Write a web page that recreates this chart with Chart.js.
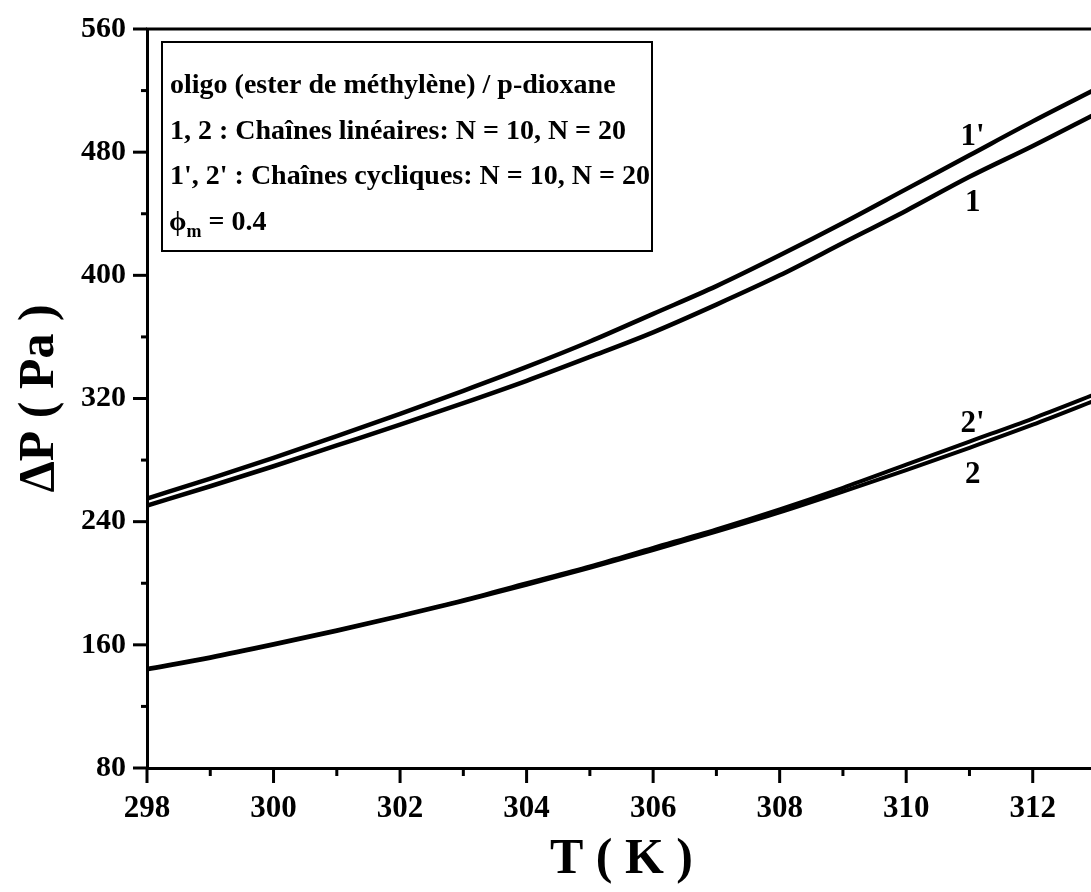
<!DOCTYPE html>
<html>
<head>
<meta charset="utf-8">
<script src="https://cdn.jsdelivr.net/npm/chart.js@4.4.1/dist/chart.umd.min.js"></script>
<style>
  html, body { margin: 0; padding: 0; background: #fff; overflow: hidden; }
  #wrap { width: 1091px; height: 892px; overflow: hidden; }
</style>
</head>
<body>
<div id="wrap"><canvas id="dpChart" width="1096" height="892"></canvas></div>
<script>
// Température (K)
const temperatures = [298, 299, 300, 301, 302, 303, 304, 305, 306, 307, 308, 309, 310, 311, 312, 313];

// ΔP (Pa) pour chaque courbe
const cycN10 = [255, 268, 281.5, 295.5, 310, 325, 340.5, 357, 375, 393, 413, 434, 456, 478, 500, 521];   // 1'
const linN10 = [250.5, 263, 276, 289.5, 303, 317, 331.5, 347, 363, 381, 400, 421, 442, 464, 484, 505]; // 1
const cycN20 = [144.5, 152, 160.5, 169.5, 179, 189, 200, 211, 223, 235, 248, 262, 277, 292, 307, 323]; // 2'
const linN20 = [144, 151.5, 160, 169, 178.5, 188.5, 199, 210, 221.5, 233.5, 246, 259.5, 273.5, 288, 303, 319]; // 2

const xMajorTicks = [298, 300, 302, 304, 306, 308, 310, 312];
const xMinorTicks = [299, 301, 303, 305, 307, 309, 311];
const yMajorTicks = [80, 160, 240, 320, 400, 480, 560];
const yMinorTicks = [120, 200, 280, 360, 440, 520];

const curveNames = ["1'", "1", "2'", "2"];
const legendLines = [
  'oligo (ester de méthylène) / p-dioxane',
  '1, 2 : Chaînes linéaires: N = 10, N = 20',
  "1', 2' : Chaînes cycliques: N = 10, N = 20"
];
const phiLabel = ['ϕ', 'm', ' = 0.4'];

const FONT = '"Liberation Serif", "Times New Roman", serif';

function toPoints(values) {
  return temperatures.map((t, i) => ({ x: t, y: values[i] }));
}

// ticks majeurs / mineurs, bord du haut, cadre de légende, noms des courbes
const decorations = {
  id: 'decorations',
  afterDraw(chart) {
    const ctx = chart.ctx;
    const area = chart.chartArea;
    const xs = chart.scales.x;
    const ys = chart.scales.y;
    ctx.save();
    ctx.strokeStyle = '#000';
    ctx.fillStyle = '#000';
    ctx.lineCap = 'butt';

    // bord du haut
    ctx.lineWidth = 3;
    ctx.beginPath();
    ctx.moveTo(area.left - 1, area.top);
    ctx.lineTo(area.right, area.top);
    ctx.stroke();

    xMajorTicks.forEach(v => {
      const px = xs.getPixelForValue(v);
      ctx.beginPath(); ctx.moveTo(px, area.bottom); ctx.lineTo(px, area.bottom + 15); ctx.stroke();
    });
    xMinorTicks.forEach(v => {
      const px = xs.getPixelForValue(v);
      ctx.beginPath(); ctx.moveTo(px, area.bottom); ctx.lineTo(px, area.bottom + 8); ctx.stroke();
    });
    yMajorTicks.forEach(v => {
      const py = ys.getPixelForValue(v);
      ctx.beginPath(); ctx.moveTo(area.left - 14, py); ctx.lineTo(area.left, py); ctx.stroke();
    });
    yMinorTicks.forEach(v => {
      const py = ys.getPixelForValue(v);
      ctx.beginPath(); ctx.moveTo(area.left - 6, py); ctx.lineTo(area.left, py); ctx.stroke();
    });

    // cadre de la légende
    ctx.lineWidth = 2;
    ctx.strokeRect(162, 42, 490, 209);
    ctx.font = 'bold 28px ' + FONT;
    ctx.textAlign = 'left';
    ctx.textBaseline = 'alphabetic';
    legendLines.forEach((txt, i) => {
      ctx.fillText(txt, 170, 93 + i * 45.5);
    });
    let x = 169;
    const yb = 230;
    ctx.fillText(phiLabel[0], x, yb);
    x += ctx.measureText(phiLabel[0]).width;
    ctx.font = 'bold 18px ' + FONT;
    ctx.fillText(phiLabel[1], x, yb + 7);
    x += ctx.measureText(phiLabel[1]).width;
    ctx.font = 'bold 28px ' + FONT;
    ctx.fillText(phiLabel[2], x, yb);

    // noms des courbes près de T = 311
    const idx = temperatures.indexOf(311);
    const lx = xs.getPixelForValue(311.05);
    const series = [cycN10, linN10, cycN20, linN20];
    const shift = [-18, 26, -18, 27];
    ctx.font = 'bold 31px ' + FONT;
    ctx.textAlign = 'center';
    ctx.textBaseline = 'middle';
    curveNames.forEach((name, i) => {
      const py = ys.getPixelForValue(series[i][idx]) + shift[i];
      ctx.fillText(name, lx, py);
    });
    ctx.restore();
  }
};

const ctx = document.getElementById('dpChart').getContext('2d');

const lineStyle = (values, width) => ({
  data: toPoints(values),
  borderColor: '#000',
  borderWidth: width,
  pointRadius: 0,
  fill: false,
  cubicInterpolationMode: 'monotone'
});

window.myChart = new Chart(ctx, {
  type: 'line',
  data: {
    datasets: [
      lineStyle(cycN10, 4.5),
      lineStyle(linN10, 4.5),
      lineStyle(cycN20, 4),
      lineStyle(linN20, 4)
    ]
  },
  options: {
    responsive: false,
    animation: false,
    layout: { padding: { top: 29, right: 0, bottom: 0, left: 0 } },
    plugins: { legend: { display: false }, tooltip: { enabled: false } },
    scales: {
      x: {
        type: 'linear',
        min: 298,
        max: 313,
        afterBuildTicks: s => { s.ticks = xMajorTicks.map(v => ({ value: v })); },
        afterFit: s => { s.height = 124; s.paddingLeft = 0; s.paddingRight = 0; },
        grid: { display: false, drawTicks: false },
        border: { display: true, color: '#000', width: 3 },
        ticks: {
          color: '#000',
          padding: 22,
          maxRotation: 0,
          autoSkip: false,
          font: { family: FONT, size: 31, weight: 'bold' }
        },
        title: {
          display: true,
          text: 'T ( K )',
          color: '#000',
          padding: { top: 0, bottom: 2 },
          font: { family: FONT, size: 50, weight: 'bold' }
        }
      },
      y: {
        min: 80,
        max: 560,
        afterBuildTicks: s => { s.ticks = yMajorTicks.map(v => ({ value: v })); },
        afterFit: s => { s.width = 147; s.paddingTop = 0; s.paddingBottom = 0; },
        grid: { display: false, drawTicks: false },
        border: { display: true, color: '#000', width: 3 },
        ticks: {
          color: '#000',
          padding: 21,
          autoSkip: false,
          font: { family: FONT, size: 30, weight: 'bold' }
        },
        title: {
          display: true,
          text: 'ΔP ( Pa )',
          color: '#000',
          padding: { top: 10, bottom: 0 },
          font: { family: FONT, size: 50, weight: 'bold' }
        }
      }
    }
  },
  plugins: [decorations]
});
</script>
</body>
</html>
